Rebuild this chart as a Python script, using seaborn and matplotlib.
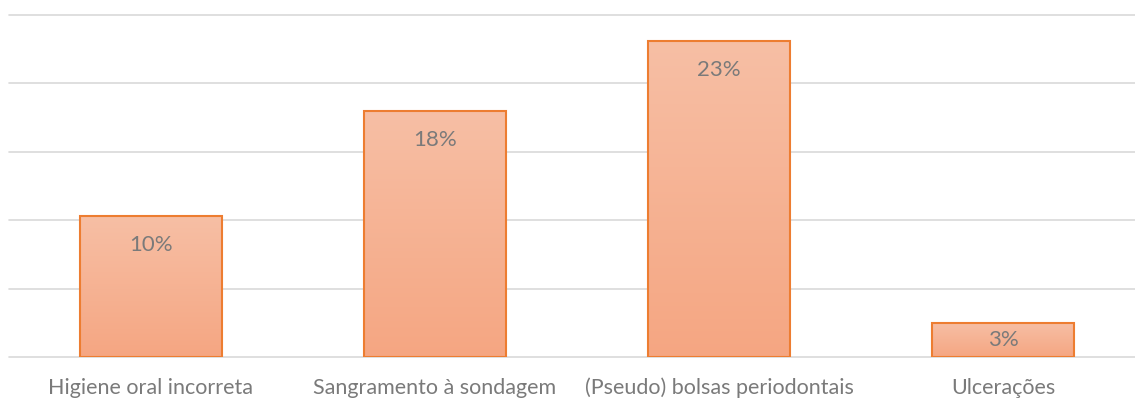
import numpy as np
import pandas as pd
import matplotlib
matplotlib.use("Agg")
import matplotlib.pyplot as plt
import seaborn as sns

categories = ["Higiene oral incorreta", "Sangramento à sondagem",
              "(Pseudo) bolsas periodontais", "Ulcerações"]
values = [10.3, 18.0, 23.1, 2.5]
value_labels = ["10%", "18%", "23%", "3%"]

EDGE = "#ED7D31"
TOP = "#F7BFA5"
BOTTOM = "#F5A682"
TEXT = "#7A7A7A"
GRID = "#D9D9D9"

sns.set_theme(style="white")
plt.rcParams["font.family"] = ["Lato", "DejaVu Sans"]

df = pd.DataFrame({"cat": categories, "val": values})

fig = plt.figure(figsize=(11.35, 4.01), dpi=100)
ax = fig.add_axes([9 / 1135, 1 - 357 / 401, 1 - 9 / 1135, (357 - 15) / 401])

sns.barplot(data=df, x="cat", y="val", order=categories, ax=ax,
            width=0.5, color=TOP, edgecolor=EDGE, linewidth=1.5, zorder=3)

ax.set_yticks(np.arange(0, 26, 5))
ax.yaxis.grid(True, color=GRID, linewidth=1.2, zorder=0)
for gl in ax.get_ygridlines():
    gl.set_clip_on(False)
ax.tick_params(axis="y", left=False, labelleft=False)
ax.tick_params(axis="x", bottom=False, pad=9, labelsize=15.5, labelcolor=TEXT)
for s in ax.spines.values():
    s.set_visible(False)
ax.set_xlabel("")
ax.set_ylabel("")

# gradient fill clipped to each bar
grad = np.linspace(0, 1, 256).reshape(-1, 1)
cmap = matplotlib.colors.LinearSegmentedColormap.from_list("g", [TOP, BOTTOM])
ax.set_xlim(-0.5, 3.5 - 10 / 284)
ax.set_ylim(0, 25)
for patch, lab in zip(ax.patches, value_labels):
    x0, y0 = patch.get_x(), patch.get_y()
    w, h = patch.get_width(), patch.get_height()
    img = ax.imshow(grad, cmap=cmap, aspect="auto", extent=[x0, x0 + w, y0, y0 + h],
                    origin="upper", zorder=3.5)
    img.set_clip_path(patch)
    patch.set_facecolor("none")
    patch.set_zorder(4)
    # label inside top of bar, centered if bar is short
    hpx = ax.transData.transform((0, h))[1] - ax.transData.transform((0, 0))[1]
    off = -21 if hpx > 60 else -(hpx / 2) * 72 / 100
    ax.annotate(lab, (x0 + w / 2, y0 + h), xytext=(0, off), textcoords="offset points",
                ha="center", va="center", fontsize=16, color=TEXT, zorder=5)

ax.set_xlim(-0.5, 3.5 - 10 / 284)
ax.set_ylim(0, 25)

fig.savefig("out.png", dpi=100)
